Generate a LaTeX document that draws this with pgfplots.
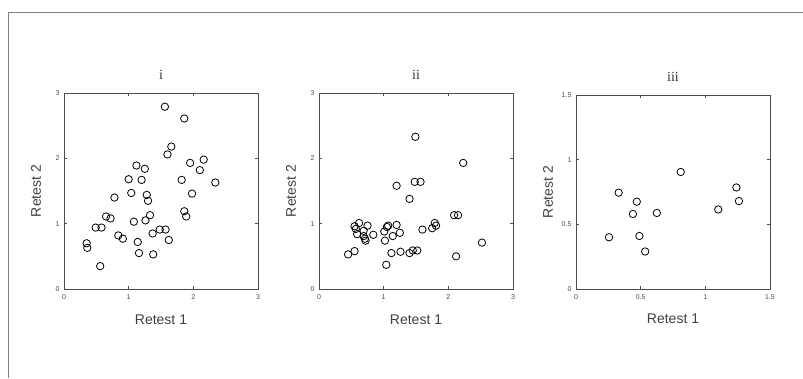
\documentclass[border=0pt]{standalone}
\usepackage{pgfplots}
\pgfplotsset{compat=1.18}
\usepackage{pgfplotstable}
\usepackage{fontspec}
\setmainfont{Liberation Sans}
\newfontfamily\serif{Liberation Serif}

\pgfplotstableread{
x y
1.56 2.79
1.86 2.61
1.66 2.18
1.60 2.06
1.95 1.93
2.16 1.98
2.10 1.82
2.34 1.63
1.82 1.67
1.98 1.46
1.12 1.89
1.25 1.84
1.20 1.67
1.00 1.68
1.04 1.47
0.78 1.40
1.28 1.44
1.30 1.35
1.33 1.13
1.26 1.05
1.08 1.03
1.86 1.19
1.89 1.11
0.65 1.11
0.72 1.08
0.49 0.94
0.58 0.94
0.84 0.82
0.91 0.77
1.14 0.72
1.16 0.55
1.38 0.53
1.37 0.85
1.48 0.91
1.57 0.91
1.62 0.75
0.35 0.70
0.36 0.63
0.56 0.35
}\dataA

\pgfplotstableread{
x y
1.49 2.33
2.23 1.93
1.20 1.58
1.48 1.64
1.57 1.64
1.40 1.38
2.09 1.13
2.15 1.13
1.79 1.01
1.81 0.97
1.75 0.93
1.60 0.91
1.20 0.98
1.07 0.97
1.05 0.95
1.01 0.88
1.14 0.81
1.25 0.86
1.02 0.74
0.62 1.01
0.55 0.96
0.57 0.92
0.59 0.84
0.75 0.97
0.69 0.89
0.69 0.81
0.71 0.77
0.72 0.74
0.84 0.83
0.45 0.53
0.55 0.58
1.12 0.55
1.26 0.57
1.40 0.55
1.45 0.59
1.52 0.59
1.04 0.37
2.12 0.50
2.52 0.71
}\dataB

\pgfplotstableread{
x y
0.81 0.905
1.24 0.785
1.26 0.68
1.10 0.615
0.33 0.745
0.47 0.675
0.44 0.58
0.625 0.588
0.255 0.40
0.49 0.41
0.535 0.29
}\dataC

\pgfplotsset{
  panel/.style={
    scale only axis,
    anchor=south west,
    width=194pt,
    axis line style={black!70, line width=0.8pt},
    tick style={black!70, line width=0.6pt},
    tick align=inside,
    xtick pos=both, ytick pos=both,
    major tick length=3pt,
    /pgf/number format/assume math mode=true,
    ticklabel style={font=\fontsize{7}{8}\selectfont, text=black!70},
    xticklabel style={yshift=-2pt},
    yticklabel style={xshift=-1pt},
    xlabel={Retest 1},
    ylabel={Retest 2},
    xlabel style={font=\fontsize{14}{16}\selectfont, text=black!75, at={(axis description cs:0.5,-0.1786)}, anchor=base},
    ylabel style={font=\fontsize{14}{16}\selectfont, text=black!75, at={(axis description cs:-0.144,0.5)}, anchor=center},
    title style={font=\serif\fontsize{14}{16}\selectfont, text=black!80, at={(axis description cs:0.5,1)}, anchor=base, yshift=8pt},
  },
  circ/.style={only marks, mark=o, mark size=3.7pt, draw=black, line width=0.8pt, mark options={draw=black, fill=none}},
}

\begin{document}
\begin{tikzpicture}[x=1pt,y=1pt]
\path[use as bounding box] (0,0) rectangle (803,378);
\draw[black!50, line width=1.3pt] (8.7,0) -- (8.7,365.3) -- (803,365.3);

\begin{axis}[panel, at={(64pt,89pt)}, height=196pt,
  xmin=0, xmax=3, ymin=0, ymax=3, xtick={0,1,2,3}, ytick={0,1,2,3}, title={i}]
\addplot[circ] table[x=x,y=y] {\dataA};
\end{axis}

\begin{axis}[panel, at={(319pt,89pt)}, height=196pt,
  xmin=0, xmax=3, ymin=0, ymax=3, xtick={0,1,2,3}, ytick={0,1,2,3}, title={ii}]
\addplot[circ] table[x=x,y=y] {\dataB};
\end{axis}

\begin{axis}[panel, at={(576pt,89pt)}, height=194pt,
  xmin=0, xmax=1.5, ymin=0, ymax=1.5, xtick={0,0.5,1,1.5}, ytick={0,0.5,1,1.5}, title={iii}]
\addplot[circ] table[x=x,y=y] {\dataC};
\end{axis}
\end{tikzpicture}
\end{document}
